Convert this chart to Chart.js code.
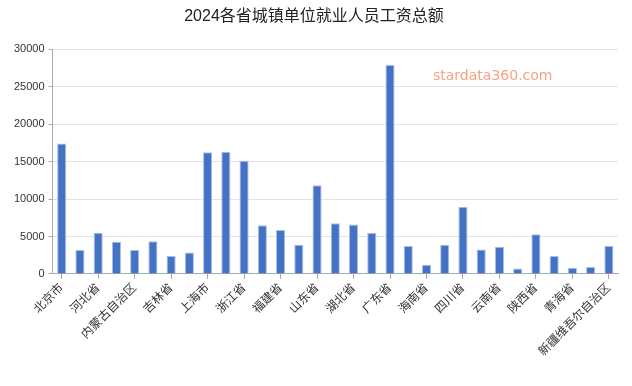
<!DOCTYPE html>
<html>
<head>
<meta charset="utf-8">
<script src="https://cdn.jsdelivr.net/npm/chart.js@4/dist/chart.umd.min.js"></script>
<style>
  html, body { margin: 0; padding: 0; background: #fff; }
  #wrap { width: 632px; height: 386px; }
</style>
</head>
<body>
<div id="wrap"><canvas id="myChart"></canvas></div>
<script>
// province names, 31 in all; only every other one is labelled on the axis
const provinces = [
    '北京市', '天津市', '河北省', '山西省', '内蒙古自治区', '辽宁省', '吉林省', '黑龙江省',
    '上海市', '江苏省', '浙江省', '安徽省', '福建省', '江西省', '山东省', '河南省',
    '湖北省', '湖南省', '广东省', '广西壮族自治区', '海南省', '重庆市', '四川省', '贵州省',
    '云南省', '西藏自治区', '陕西省', '甘肃省', '青海省', '宁夏回族自治区', '新疆维吾尔自治区'
];
const wageTotals = [
    17400, 3200, 5500, 4300, 3200, 4350, 2380, 2870,
    16250, 16300, 15100, 6500, 5880, 3900, 11850, 6770,
    6600, 5480, 27900, 3720, 1210, 3900, 8980, 3270,
    3630, 720, 5300, 2380, 810, 940, 3720
];
const yTicks = [0, 5000, 10000, 15000, 20000, 25000, 30000];
const chartTitle = '2024各省城镇单位就业人员工资总额';
const watermark = 'stardata360.com';

const fontFamily = '"Liberation Sans", "Noto Sans CJK SC", sans-serif';

// draw the site watermark inside the plot
const watermarkPlugin = {
    id: 'watermark',
    afterDatasetsDraw(chart) {
        const ctx = chart.ctx;
        ctx.save();
        ctx.font = '14px "DejaVu Sans", sans-serif';
        ctx.fillStyle = '#f7a283';
        ctx.textAlign = 'left';
        ctx.textBaseline = 'middle';
        ctx.fillText(watermark, 433, 76);
        ctx.restore();
    }
};

const grapharea = document.getElementById('myChart');
grapharea.chart = new Chart(grapharea, {
    type: 'bar',
    data: {
        labels: provinces,
        datasets: [{
            data: wageTotals,
            backgroundColor: '#4472c4',
            borderColor: '#a8bfe8',
            borderWidth: 1,
            barPercentage: 0.5,
            categoryPercentage: 1.0
        }]
    },
    options: {
        responsive: true,
        maintainAspectRatio: false,
        animation: false,
        layout: { padding: { left: 10, right: 14, top: 0, bottom: 25 } },
        plugins: {
            legend: { display: false },
            tooltip: { enabled: false },
            title: {
                display: true,
                text: chartTitle,
                color: '#222',
                font: { family: fontFamily, size: 16, weight: 'normal' },
                padding: { top: 7, bottom: 23 }
            }
        },
        scales: {
            x: {
                offset: true,
                afterBuildTicks: axis => {
                    axis.ticks = axis.ticks.filter((t, i) => i % 2 === 0);
                },
                ticks: {
                    autoSkip: false,
                    maxRotation: 45,
                    minRotation: 45,
                    color: '#333',
                    padding: 2,
                    font: { family: fontFamily, size: 12 }
                },
                grid: {
                    offset: false,
                    drawOnChartArea: false,
                    drawTicks: true,
                    tickLength: 5,
                    tickColor: '#aaa'
                },
                border: { color: '#aaa' }
            },
            y: {
                min: 0,
                max: 30000,
                afterBuildTicks: axis => {
                    axis.ticks = yTicks.map(v => ({ value: v }));
                },
                ticks: {
                    color: '#333',
                    padding: 4,
                    font: { family: fontFamily, size: 11 },
                    callback: v => String(v)
                },
                grid: {
                    color: '#e3e3e3',
                    tickLength: 4,
                    tickColor: '#aaa'
                },
                border: { color: '#aaa' }
            }
        }
    },
    plugins: [watermarkPlugin]
});
</script>
</body>
</html>
